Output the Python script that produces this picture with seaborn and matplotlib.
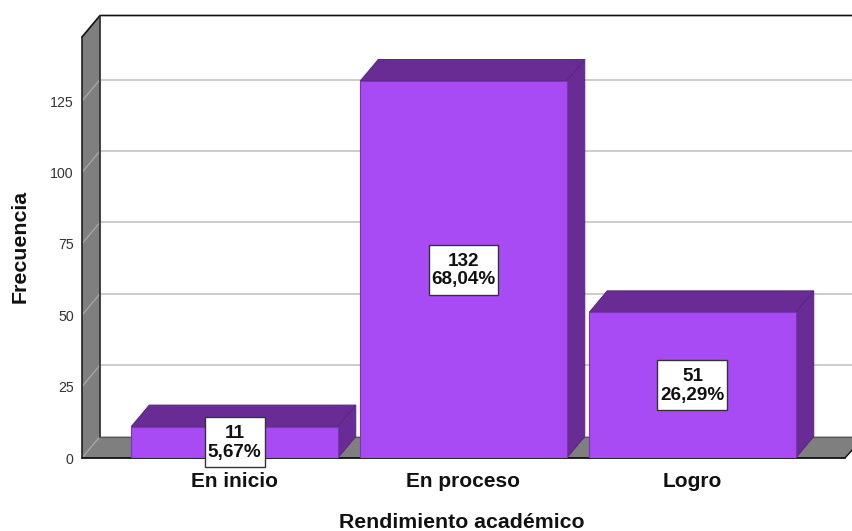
import matplotlib
matplotlib.use("Agg")
import matplotlib.pyplot as plt
from matplotlib.patches import Polygon, Rectangle
import seaborn as sns
import pandas as pd

categories = ["En inicio", "En proceso", "Logro"]
counts = [11, 132, 51]
percents = ["5,67%", "68,04%", "26,29%"]
y_ticks = [0, 25, 50, 75, 100, 125]

W, H = 853, 531
sns.set_theme(style="white")
plt.rcParams['font.family'] = ['Liberation Sans', 'DejaVu Sans']

fig = plt.figure(figsize=(W / 100, H / 100), dpi=100, facecolor="white")
ax = fig.add_axes([82 / W, 1 - 458 / H, (845 - 82) / W, (458 - 37) / H])

PURPLE, DARK, GRAY = "#a84bf5", "#682c94", "#7f7f7f"
BAR_W = 0.902
df = pd.DataFrame({"cat": categories, "n": counts})
sns.barplot(data=df, x="cat", y="n", color=PURPLE, saturation=1, width=BAR_W,
            edgecolor="#7a35b5", linewidth=0.8, zorder=5, ax=ax)

ax.set_xlim(-0.666, 2.666)
ax.set_ylim(0, 421 / 2.856)
dx = 18 / 229          # depth offset, category units
dy = 21.5 / 2.856      # depth offset, value units
x0, x1 = ax.get_xlim()
y1 = ax.get_ylim()[1]

# walls and floor
ax.add_patch(Polygon([(x0, 0), (x0 + dx, dy), (x0 + dx, y1 + dy), (x0, y1)], closed=True,
                     fc=GRAY, ec="none", zorder=1, clip_on=False))
ax.add_patch(Polygon([(x0, 0), (x0 + dx, dy), (x1 + 0.1, dy), (x1, 0)], closed=True,
                     fc=GRAY, ec="none", zorder=1, clip_on=False))
ax.plot([x0, x0 + dx, x1 + 0.1], [y1, y1 + dy, y1 + dy], color="#111111", lw=1.2, clip_on=False, zorder=2)
ax.plot([x0, x0], [0, y1], color="#222222", lw=1.2, clip_on=False, zorder=2)
ax.plot([x0 + dx, x0 + dx], [dy, y1 + dy], color="#333333", lw=1.3, clip_on=False, zorder=2)
ax.plot([x0 + dx, x1 + 0.1], [dy, dy], color="#555555", lw=0.8, clip_on=False, zorder=2)
ax.plot([x0, x1], [0, 0], color="#111111", lw=1.3, clip_on=False, zorder=2)
ax.plot([x1, x1 + 0.05], [0, dy * 0.6], color="#111111", lw=1.0, clip_on=False, zorder=2)

# gridlines on the back wall and the side wall
for v in y_ticks[1:]:
    ax.plot([x0 + dx, x1 + 0.1], [v + dy, v + dy], color="#c8c8c8", lw=1.3, clip_on=False, zorder=1.5)
for v in y_ticks:
    ax.plot([x0, x0 + dx], [v, v + dy], color="#a8a8a8", lw=0.9, clip_on=False, zorder=1.5)

# bar depth faces and value boxes
hw = BAR_W / 2
box_h = 50 / 2.856
for i, n in enumerate(counts):
    ax.add_patch(Polygon([(i - hw, n), (i - hw + dx, n + dy), (i + hw + dx, n + dy), (i + hw, n)],
                         closed=True, fc=DARK, ec="#5a2682", lw=0.7, zorder=4, clip_on=False))
    ax.add_patch(Polygon([(i + hw, 0), (i + hw + dx, dy), (i + hw + dx, n + dy), (i + hw, n)],
                         closed=True, fc=DARK, ec="#5a2682", lw=0.7, zorder=4, clip_on=False))
    box_w = (60 if len(percents[i]) == 5 else 70) / 229
    ax.add_patch(Rectangle((i - box_w / 2, n / 2 - box_h / 2), box_w, box_h, fc="white",
                           ec="#333333", lw=1.0, zorder=7, clip_on=False))
    ax.text(i, n / 2 - 0.3, f"{n}\n{percents[i]}", ha="center", va="center", fontsize=13.6,
            fontweight="bold", color="#111111", linespacing=1.12, zorder=8)

for s in ax.spines.values():
    s.set_visible(False)
ax.set_yticks(y_ticks)
ax.set_xticks(range(len(categories)))
ax.set_xticklabels(categories, fontsize=15, fontweight="bold", color="#111111")
ax.tick_params(axis="x", length=0, pad=10)
ax.tick_params(axis="y", length=0, pad=6, labelsize=10.2, labelcolor="#333333")
ax.patch.set_alpha(0)
ax.set_xlabel("")
ax.set_ylabel("")
fig.text(462 / W, 1 - 523 / H, "Rendimiento académico", ha="center", va="center",
         fontsize=15.3, fontweight="bold", color="#111111")
fig.text(20 / W, 1 - 246 / H, "Frecuencia", ha="center", va="center", rotation=90,
         fontsize=15.4, fontweight="bold", color="#111111")
fig.savefig("out.png", dpi=100)
